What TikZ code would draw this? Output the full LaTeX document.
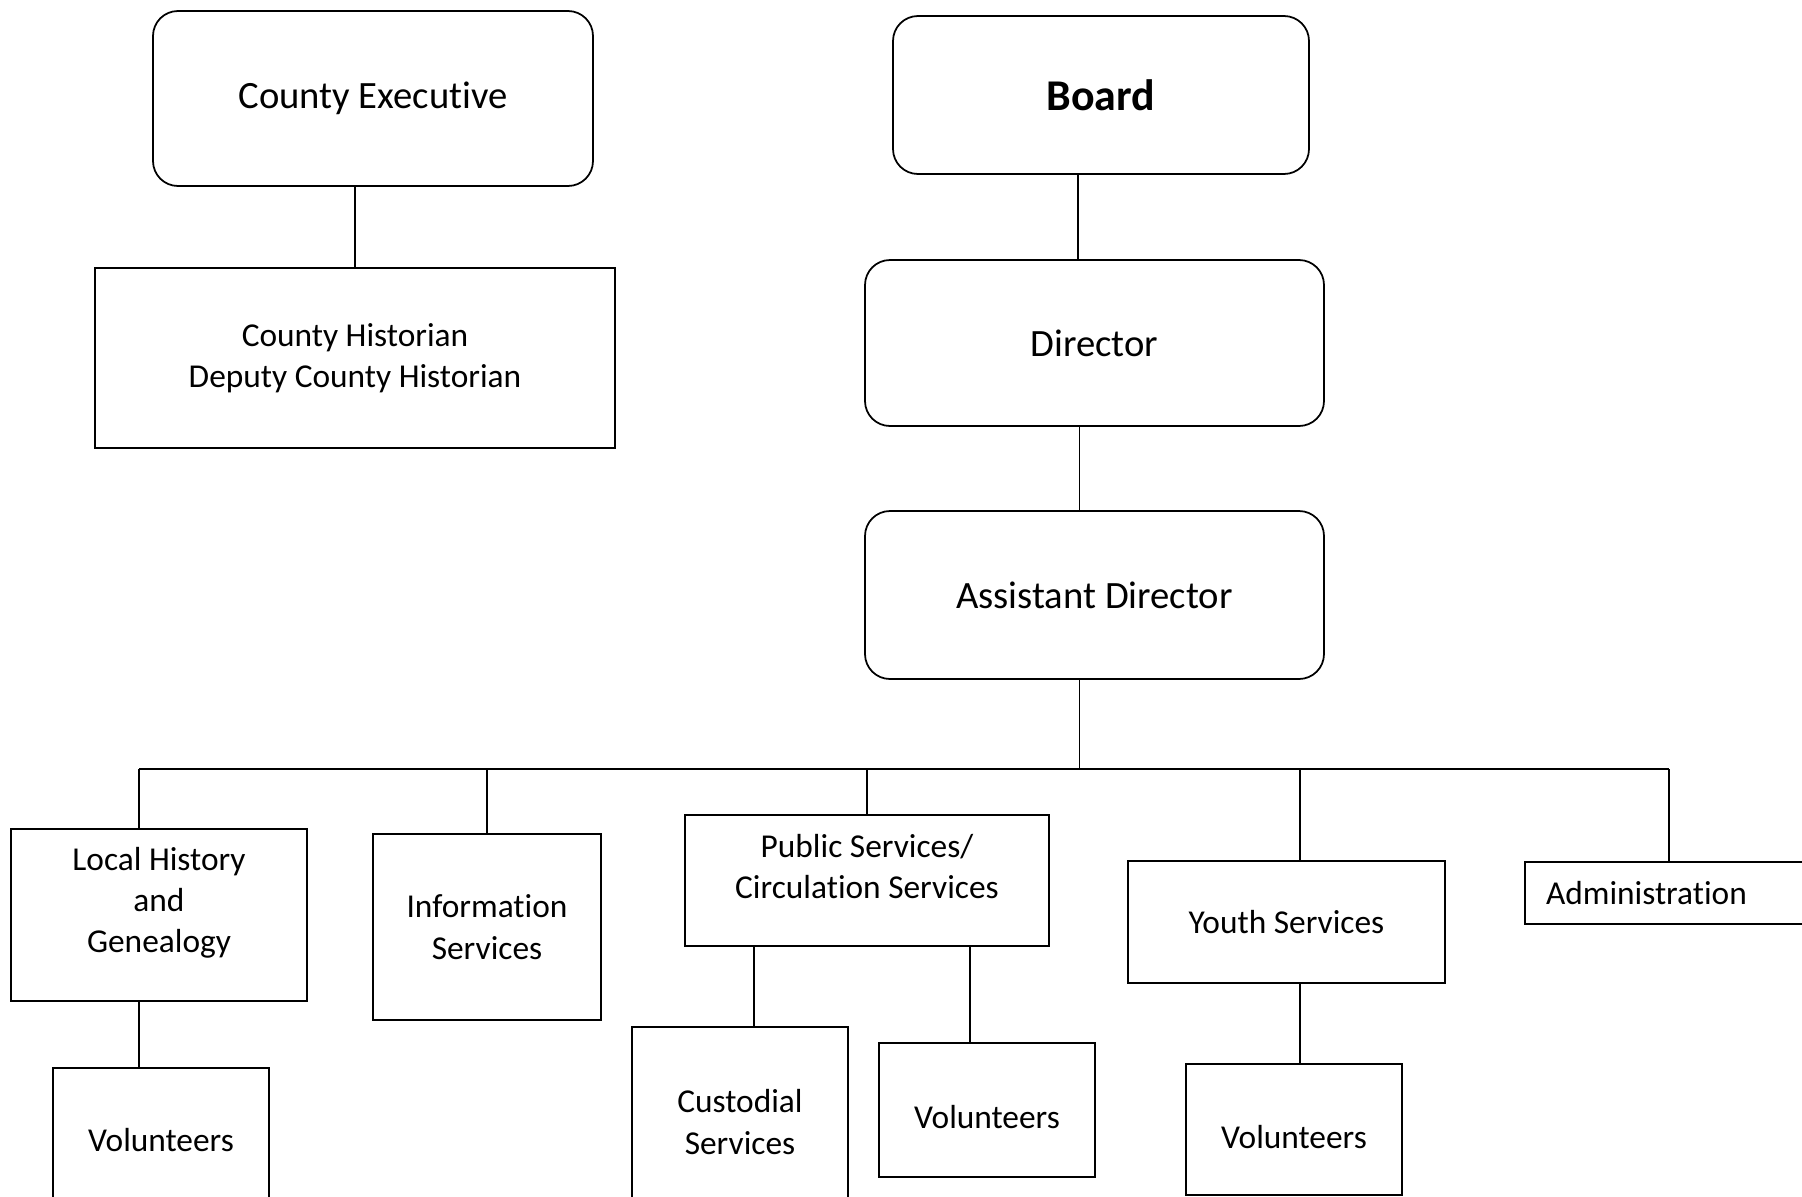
\documentclass[tikz,border=0pt]{standalone}
\usepackage{fontspec}
\setmainfont[Ligatures=NoCommon]{Carlito}

\begin{document}
\begin{tikzpicture}

\tikzset{head/.style = {shape=rectangle,draw,line width=1pt,rounded corners=0.5cm,font=\fontsize{22}{26.5}\selectfont}}
\tikzset{unit/.style = {shape=rectangle,draw,line width=1pt,align=center,font=\fontsize{19}{23.5}\selectfont}}

\clip (0,0) rectangle (36.04,-23.92);

\node[head,minimum width=8.8cm,minimum height=3.5cm] (exec) at (7.46,-1.97) {County Executive};
\node[unit,minimum width=10.4cm,minimum height=3.6cm] (hist) at (7.10,-7.16) {County Historian\\Deputy County Historian};

\node[head,minimum width=8.32cm,minimum height=3.16cm,font=\fontsize{25}{30}\selectfont\bfseries] (board) at (22.02,-1.90) {Board};
\node[head,minimum width=9.18cm,minimum height=3.32cm] (dir) at (21.89,-6.86) {Director};
\node[head,minimum width=9.18cm,minimum height=3.36cm] (asst) at (21.89,-11.90) {Assistant Director};

\node[unit,minimum width=5.92cm,minimum height=3.44cm,text depth=0.61cm] (local) at (3.18,-18.30) {Local History\\and\\Genealogy};
\node[unit,minimum width=4.56cm,minimum height=3.72cm] (info) at (9.74,-18.54) {Information\\Services};
\node[unit,minimum width=7.28cm,minimum height=2.62cm,text depth=0.56cm] (pub) at (17.34,-17.61) {Public Services/\\Circulation Services};
\node[unit,minimum width=6.34cm,minimum height=2.44cm] (youth) at (25.73,-18.44) {Youth Services};
\node[unit,minimum height=1.24cm,text width=4.92cm,inner xsep=0.42cm,align=left] (admin) at (33.38,-17.86) {Administration};

\node[unit,minimum width=4.32cm,minimum height=2.88cm] (vol1) at (3.22,-22.80) {Volunteers};
\node[unit,minimum width=4.32cm,minimum height=3.8cm] (cust) at (14.80,-22.44) {Custodial\\Services};
\node[unit,minimum width=4.32cm,minimum height=2.68cm,text height=0.75cm] (vol2) at (19.74,-22.20) {Volunteers};
\node[unit,minimum width=4.32cm,minimum height=2.62cm,text height=0.75cm] (vol3) at (25.88,-22.59) {Volunteers};

\coordinate (bus) at (21.6,-15.38);

\draw[line width=1pt] (hist.north) -- (hist.north |- exec.south);
\draw[line width=1pt] ([xshift=-0.46cm]board.south) -- ([xshift=-0.46cm]board.south |- dir.north);
\draw[line width=1pt] ([xshift=-0.3cm]dir.south) -- ([xshift=-0.3cm]dir.south |- asst.north);
\draw[line width=1pt] ([xshift=-0.3cm]asst.south) -- ([xshift=-0.3cm]asst.south |- bus);
\draw[line width=1pt] ([xshift=-0.4cm]local.north |- bus) -- (admin.north |- bus);

\draw[line width=1pt] ([xshift=-0.4cm]local.north) -- ([xshift=-0.4cm]local.north |- bus);
\draw[line width=1pt] (info.north) -- (info.north |- bus);
\draw[line width=1pt] (pub.north) -- (pub.north |- bus);
\draw[line width=1pt] ([xshift=0.27cm]youth.north) -- ([xshift=0.27cm]youth.north |- bus);
\draw[line width=1pt] (admin.north) -- (admin.north |- bus);

\draw[line width=1pt] ([xshift=-0.44cm]vol1.north) -- ([xshift=-0.44cm]vol1.north |- local.south);
\draw[line width=1pt] ([xshift=0.28cm]cust.north) -- ([xshift=0.28cm]cust.north |- pub.south);
\draw[line width=1pt] ([xshift=-0.34cm]vol2.north) -- ([xshift=-0.34cm]vol2.north |- pub.south);
\draw[line width=1pt] ([xshift=0.12cm]vol3.north) -- ([xshift=0.12cm]vol3.north |- youth.south);

\end{tikzpicture}
\end{document}
